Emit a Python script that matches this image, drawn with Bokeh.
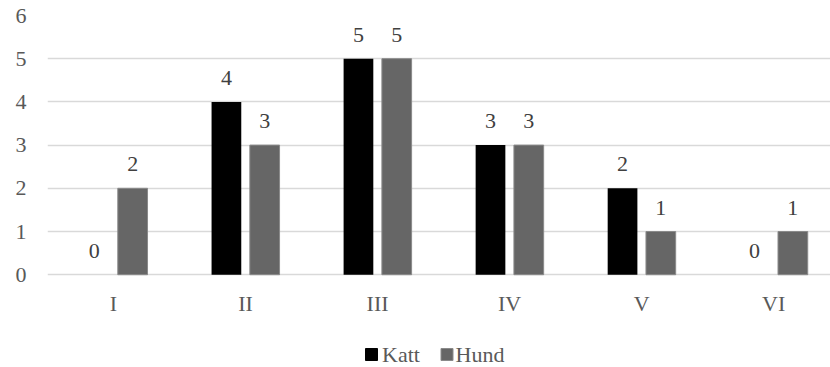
from bokeh.plotting import figure
from bokeh.models import ColumnDataSource, Range1d, FixedTicker
from bokeh.core.properties import value
from bokeh.embed import file_html
from bokeh.resources import INLINE

categories = ["I", "II", "III", "IV", "V", "VI"]
katt = [0, 4, 5, 3, 2, 0]
hund = [2, 3, 5, 3, 1, 1]
y_ticks = [0, 1, 2, 3, 4, 5, 6]
series_names = ["Katt", "Hund"]
series_colors = ["#000000", "#666666"]

FONT = "Liberation Serif"
TEXT_COLOR = "#595959"
FS = "22px"

W, H = 830, 367
LEFT, TOP = 47, 15
X0, X1 = -0.5, 5.43
Y0, Y1 = -2.148, 6

xs = list(range(len(categories)))
offset = 0.145
bar_w = 0.225

src_k = ColumnDataSource(dict(x=[x - offset for x in xs], top=katt, lbl=[str(v) for v in katt]))
src_h = ColumnDataSource(dict(x=[x + offset for x in xs], top=hund, lbl=[str(v) for v in hund]))
src_cat = ColumnDataSource(dict(x=xs, y=[0] * len(xs), lbl=categories))

# the frame runs to the bottom of the page so the legend can sit under the category labels
p = figure(width=W, height=H, output_backend="svg", toolbar_location=None,
           x_range=Range1d(X0, X1), y_range=Range1d(Y0, Y1),
           min_border_left=LEFT, min_border_right=0, min_border_top=TOP, min_border_bottom=0)
p.outline_line_color = None
p.background_fill_color = "white"
p.border_fill_color = "white"

# gridlines
p.xgrid.grid_line_color = None
p.ygrid.grid_line_color = "#d9d9d9"
p.ygrid.grid_line_width = 1.3
p.ygrid.ticker = FixedTicker(ticks=y_ticks)

# y axis: labels only
p.yaxis.ticker = FixedTicker(ticks=y_ticks)
p.yaxis.axis_line_color = None
p.yaxis.major_tick_line_color = None
p.yaxis.minor_tick_line_color = None
p.yaxis.major_label_text_font = FONT
p.yaxis.major_label_text_font_size = FS
p.yaxis.major_label_text_color = TEXT_COLOR
p.yaxis.major_label_standoff = 15

p.xaxis.visible = False

p.vbar(x="x", top="top", width=bar_w, source=src_k, fill_color=series_colors[0], line_color=None)
p.vbar(x="x", top="top", width=bar_w, source=src_h, fill_color=series_colors[1], line_color="#8a8a8a")

# value labels above the bars
for src in (src_k, src_h):
    p.text(x="x", y="top", text="lbl", source=src, text_align="center", text_baseline="middle",
           y_offset=-24, text_font=value(FONT), text_font_size=value(FS), text_color="#404040")

# category labels under the zero line
p.text(x="x", y="y", text="lbl", source=src_cat, text_align="center", text_baseline="middle",
       y_offset=29, text_font=value(FONT), text_font_size=value(FS), text_color=TEXT_COLOR)


# legend row under the category labels, placed in page pixels
def px_to_x(sx):
    return X0 + (sx - LEFT) * (X1 - X0) / (W - LEFT)


def py_to_y(sy):
    return Y1 - (sy - TOP) * (Y1 - Y0) / (H - TOP)


legend_swatch_px = [371, 446.5]
legend_text_px = [381.5, 455]
legend_row_y = py_to_y(354)

p.scatter(x=[px_to_x(s) for s in legend_swatch_px], y=[legend_row_y] * 2, marker="square",
          size=12, fill_color=series_colors, line_color=["#000000", "#8a8a8a"])
p.text(x=[px_to_x(s) for s in legend_text_px], y=[legend_row_y] * 2, text=series_names,
       text_align="left", text_baseline="middle", text_font=value(FONT),
       text_font_size=value(FS), text_color=TEXT_COLOR)

open("out.html", "w").write(file_html(p, INLINE))
